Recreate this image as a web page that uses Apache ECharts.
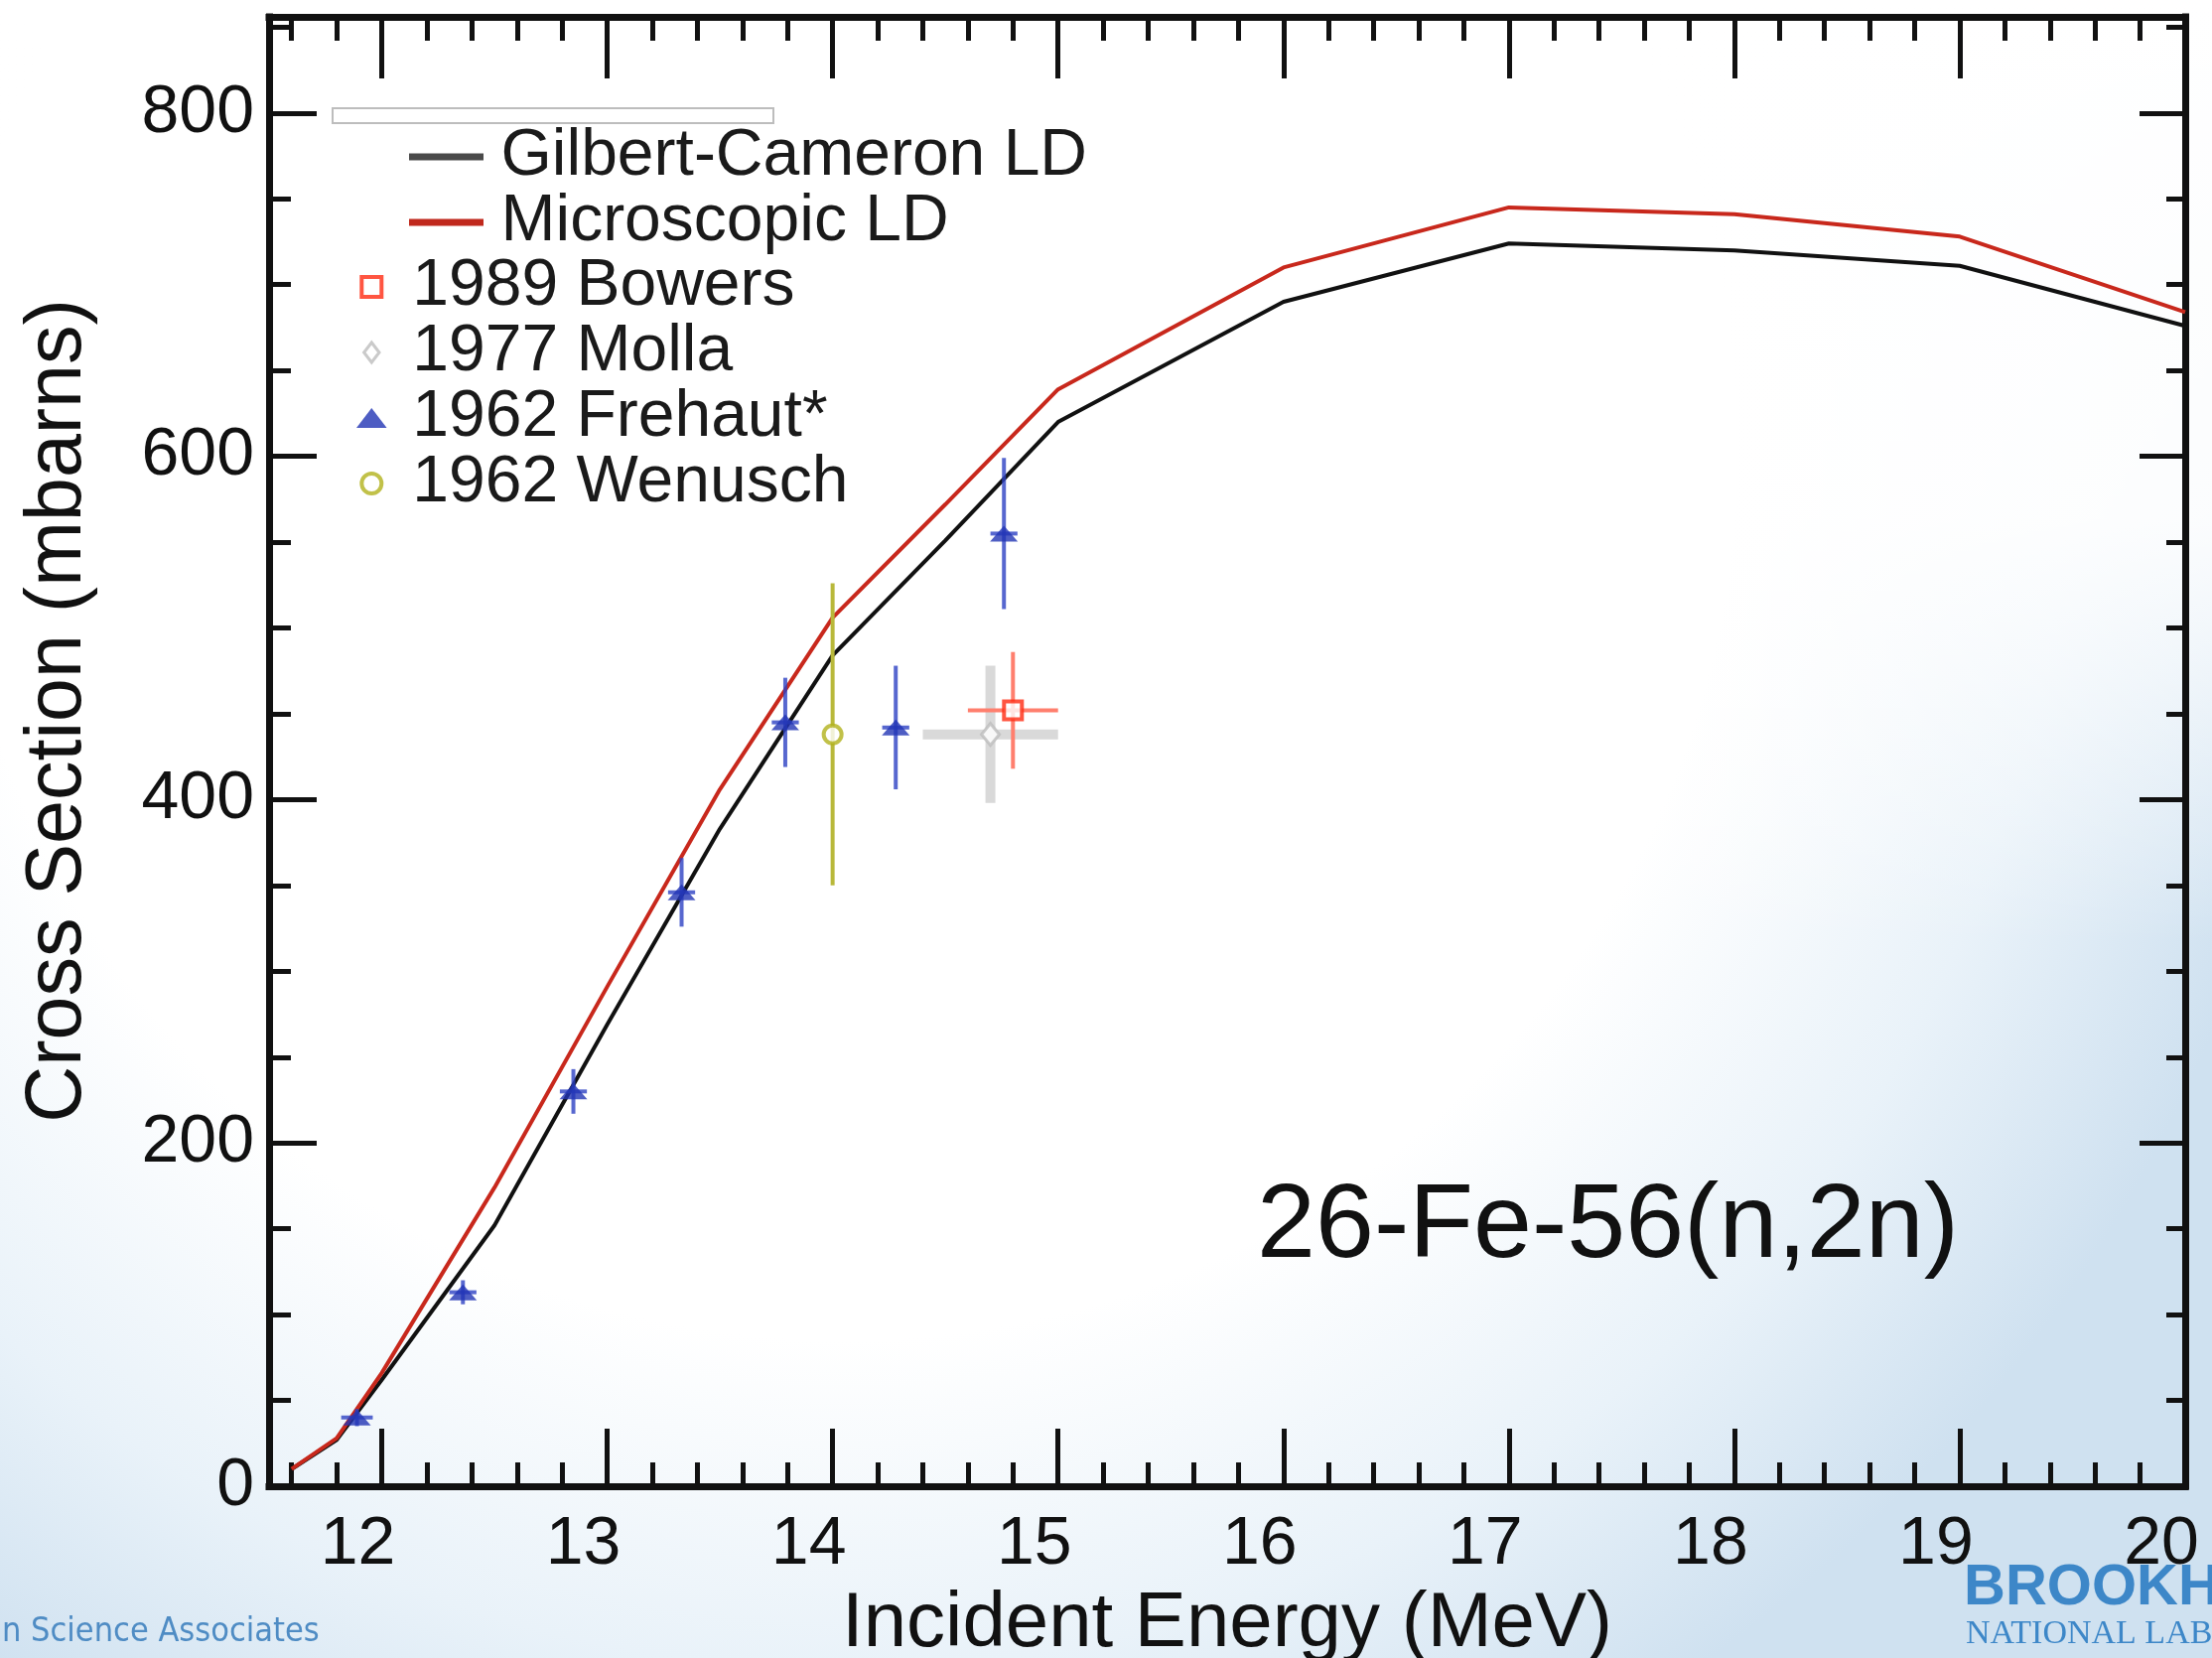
<!DOCTYPE html>
<html>
<head>
<meta charset="utf-8">
<script src="https://cdn.jsdelivr.net/npm/echarts@6/dist/echarts.min.js"></script>
<style>
html,body{margin:0;padding:0;background:#fff;}
#chart{width:2228px;height:1670px;}
</style>
</head>
<body>
<div id="chart"></div>
<script>
// ---------------- data ----------------
const modelEnergy = [11.6, 11.8, 12.0, 12.5, 13.0, 13.5, 14.0, 14.5, 15, 16, 17, 18, 19, 20];
const gilbertCameronLD = [10, 27, 62, 152, 269, 383, 484, 551, 620, 690, 724, 720, 711, 676];
const microscopicLD = [10, 28, 66, 174, 291, 406, 506, 572, 639, 710, 745, 741, 728, 684];

const frehautE   = [11.89, 12.36, 12.85, 13.33, 13.79, 14.28, 14.76];
const frehautXS  = [40, 113, 230, 346, 445, 442, 555];
const frehautDXS = [5, 7, 13, 20, 26, 36, 44];
const frehautDE  = [0.07, 0.06, 0.06, 0.06, 0.06, 0.06, 0.06];

const wenuschE = [14.0];  const wenuschXS = [438]; const wenuschDXS = [88]; const wenuschDE = [0];
const mollaE   = [14.70]; const mollaXS   = [438]; const mollaDXS   = [40]; const mollaDE   = [0.30];
const bowersE  = [14.80]; const bowersXS  = [452]; const bowersDXS  = [34]; const bowersDE  = [0.20];

const xMajorTicks = [12, 13, 14, 15, 16, 17, 18, 19, 20];
const xTickLabels = [12, 13, 14, 15, 16, 17, 18, 19, 20];
const xMinorTicks = [11.6, 11.8,
  12.2, 12.4, 12.6, 12.8, 13.2, 13.4, 13.6, 13.8,
  14.2, 14.4, 14.6, 14.8, 15.2, 15.4, 15.6, 15.8,
  16.2, 16.4, 16.6, 16.8, 17.2, 17.4, 17.6, 17.8,
  18.2, 18.4, 18.6, 18.8, 19.2, 19.4, 19.6, 19.8];
const yMajorTicks = [0, 200, 400, 600, 800];
const yTickLabels = [0, 200, 400, 600, 800];
const yMinorTicks = [50, 100, 150, 250, 300, 350, 450, 500, 550, 650, 700, 750, 850];

const X_MIN = 11.5, X_MAX = 20, Y_MIN = 0, Y_MAX = 856;

// ---------------- helpers ----------------
const FONT = "'Liberation Sans', Arial, Helvetica, sans-serif";
const INK = '#111111';
const pairs = (xs, ys) => xs.map((x, i) => [x, ys[i]]);

function errorBars(name, xs, ys, dys, dxs, color, width) {
  return {
    type: 'custom', name: name, xAxisIndex: 0, yAxisIndex: 0, z: 3, silent: true,
    data: xs.map((x, i) => [x, ys[i], dxs[i], dys[i]]),
    encode: { x: 0, y: 1 },
    renderItem: function (params, api) {
      const x = api.value(0), y = api.value(1), dx = api.value(2), dy = api.value(3);
      const children = [];
      const t = api.coord([x, y + dy]), b = api.coord([x, y - dy]);
      children.push({ type: 'line', shape: { x1: t[0], y1: t[1], x2: b[0], y2: b[1] },
        style: { stroke: color, lineWidth: width } });
      if (dx > 0) {
        const l = api.coord([x - dx, y]), r = api.coord([x + dx, y]);
        children.push({ type: 'line', shape: { x1: l[0], y1: l[1], x2: r[0], y2: r[1] },
          style: { stroke: color, lineWidth: width } });
      }
      return { type: 'group', children: children };
    }
  };
}

function xAxisDef(position, ticks, len, labels, line, extra) {
  return Object.assign({
    type: 'value', position: position, min: X_MIN, max: X_MAX, gridIndex: 0,
    axisLine: { show: line, onZero: false, lineStyle: { color: INK, width: 7, cap: 'square' } },
    axisTick: { show: true, inside: true, length: len, customValues: ticks, lineStyle: { color: INK, width: 5 } },
    axisLabel: labels ? { show: true, customValues: labels, margin: 25, fontSize: 68, color: INK,
      fontFamily: FONT, padding: [0, 48, 0, 0] } : { show: false },
    splitLine: { show: false }, axisPointer: { show: false }
  }, extra || {});
}
function yAxisDef(position, ticks, len, labels, line, extra) {
  return Object.assign({
    type: 'value', position: position, min: Y_MIN, max: Y_MAX, gridIndex: 0,
    axisLine: { show: line, onZero: false, lineStyle: { color: INK, width: 7, cap: 'square' } },
    axisTick: { show: true, inside: true, length: len, customValues: ticks, lineStyle: { color: INK, width: 5 } },
    axisLabel: labels ? { show: true, customValues: labels, margin: 15, fontSize: 68, color: INK,
      fontFamily: FONT } : { show: false },
    splitLine: { show: false }, axisPointer: { show: false }
  }, extra || {});
}

const legendText = { fontSize: 66, lineHeight: 66, color: '#1a1a1a', fontFamily: FONT };
const triPath = 'path://M0 17L13 0L26 17Z';
const squarePath = 'path://M0 0H20V20H0Z';
const diamondPath = 'path://M10 0L20 13L10 26L0 13Z';

const option = {
  backgroundColor: '#ffffff',
  animation: false,
  grid: { left: 271, right: 27, top: 17, bottom: 173, containLabel: false, outerBoundsMode: 'none' },
  xAxis: [
    xAxisDef('bottom', xMajorTicks, 58, xTickLabels, true, {
      name: 'Incident Energy (MeV)', nameLocation: 'middle', nameGap: 100,
      nameTextStyle: { fontSize: 78, color: INK, fontFamily: FONT }
    }),
    xAxisDef('bottom', xMinorTicks, 24, null, false),
    xAxisDef('top', xMajorTicks, 62, null, true),
    xAxisDef('top', xMinorTicks, 24, null, false)
  ],
  yAxis: [
    yAxisDef('left', yMajorTicks, 48, yTickLabels, true, {
      name: 'Cross Section (mbarns)', nameLocation: 'middle', nameGap: 172,
      nameTextStyle: { fontSize: 79, color: INK, fontFamily: FONT, padding: [0, 0, 0, 82] }
    }),
    yAxisDef('left', yMinorTicks, 22, null, false),
    yAxisDef('right', yMajorTicks, 46, null, true),
    yAxisDef('right', yMinorTicks, 19, null, false)
  ],
  legend: [
    {
      orient: 'vertical', left: 412, top: 125, padding: 0, itemGap: 0,
      itemWidth: 100, itemHeight: 7, selectedMode: false, textStyle: legendText,
      data: [
        { name: 'Gilbert-Cameron LD', icon: 'path://M0 0H75V7H0Z', itemStyle: { color: '#4a4a4a', borderWidth: 0 } },
        { name: 'Microscopic LD', icon: 'path://M0 0H75V7H0Z', itemStyle: { color: '#c0281c', borderWidth: 0 } }
      ]
    },
    {
      orient: 'vertical', left: 359, top: 256, padding: 0, itemGap: 0,
      itemWidth: 72, itemHeight: 20, selectedMode: false, textStyle: legendText,
      data: [
        { name: '1989 Bowers', icon: squarePath, itemStyle: { color: '#ffffff', borderColor: '#ff2a12', borderWidth: 4 } },
        { name: '1977 Molla', icon: diamondPath, itemStyle: { color: '#ffffff', borderColor: '#bdbdbd', borderWidth: 3 } },
        { name: '1962 Frehaut*', icon: triPath, itemStyle: { color: '#2234b4', borderWidth: 0 } },
        { name: '1962 Wenusch', icon: 'circle', itemStyle: { color: '#ffffff', borderColor: '#b2b21c', borderWidth: 4 } }
      ]
    }
  ],
  title: {
    text: '26-Fe-56(n,2n)', left: 1266, top: 1184, padding: 0,
    textStyle: { fontSize: 106, fontWeight: 'normal', color: INK, fontFamily: FONT }
  },
  graphic: [
    { type: 'rect', z: -20, silent: true, shape: { x: 0, y: 0, width: 2228, height: 1670 },
      style: { fill: { type: 'radial', x: 850, y: 450, r: 1500, global: true,
        colorStops: [{ offset: 0, color: '#ffffff' }, { offset: 0.6, color: '#ffffff' },
                     { offset: 0.82, color: '#e9f2f9' }, { offset: 1, color: '#cfe1f0' }] } } },
    { type: 'rect', z: -19, silent: true, shape: { x: 0, y: 0, width: 2228, height: 950 },
      style: { fill: { type: 'linear', x: 0, y: 0, x2: 0, y2: 1,
        colorStops: [{ offset: 0, color: 'rgba(255,255,255,1)' }, { offset: 0.55, color: 'rgba(255,255,255,0.9)' },
                     { offset: 1, color: 'rgba(255,255,255,0)' }] } } },
    { type: 'rect', z: 10, silent: true, shape: { x: 335, y: 109, width: 444, height: 15 },
      style: { fill: '#ffffff', stroke: '#bdbdbd', lineWidth: 2 } },
    { type: 'text', z: 10, silent: true, x: 2, y: 1644,
      style: { text: 'n Science Associates', fill: '#4f8cc4', fontSize: 34,
        fontFamily: "'Liberation Sans Narrow', 'DejaVu Sans Condensed', sans-serif", verticalAlign: 'middle' } },
    { type: 'text', z: 10, silent: true, x: 1978, y: 1600,
      style: { text: 'BROOKHAVEN', fill: '#3d87c8', fontSize: 58, fontWeight: 'bold',
        fontFamily: FONT, verticalAlign: 'middle' } },
    { type: 'text', z: 10, silent: true, x: 1980, y: 1646,
      style: { text: 'NATIONAL LABORATORY', fill: '#3d87c8', fontSize: 34,
        fontFamily: "'Liberation Serif', 'DejaVu Serif', serif", verticalAlign: 'middle' } }
  ],
  series: [
    { type: 'line', name: 'Gilbert-Cameron LD', data: pairs(modelEnergy, gilbertCameronLD),
      xAxisIndex: 0, yAxisIndex: 0, symbol: 'none', showSymbol: false, z: 2,
      lineStyle: { color: '#111111', width: 4 }, itemStyle: { color: '#111111' } },
    { type: 'line', name: 'Microscopic LD', data: pairs(modelEnergy, microscopicLD),
      xAxisIndex: 0, yAxisIndex: 0, symbol: 'none', showSymbol: false, z: 2,
      lineStyle: { color: '#c8281c', width: 4 }, itemStyle: { color: '#c8281c' } },

    errorBars('Molla err', mollaE, mollaXS, mollaDXS, mollaDE, '#d9d9d9', 10),
    errorBars('Bowers err', bowersE, bowersXS, bowersDXS, bowersDE, '#ff7f6e', 4),
    errorBars('Wenusch err', wenuschE, wenuschXS, wenuschDXS, wenuschDE, '#b8b83a', 4),
    errorBars('Frehaut err', frehautE, frehautXS, frehautDXS, frehautDE, 'rgba(45,65,195,0.8)', 4),

    { type: 'scatter', name: '1977 Molla', data: pairs(mollaE, mollaXS), xAxisIndex: 0, yAxisIndex: 0, z: 5,
      symbol: 'diamond', symbolSize: [18, 22], itemStyle: { color: '#ffffff', borderColor: '#bdbdbd', borderWidth: 3 } },
    { type: 'scatter', name: '1989 Bowers', data: pairs(bowersE, bowersXS), xAxisIndex: 0, yAxisIndex: 0, z: 5,
      symbol: 'rect', symbolSize: 18, itemStyle: { color: '#ffffff', borderColor: '#ff2a12', borderWidth: 4 } },
    { type: 'scatter', name: '1962 Wenusch', data: pairs(wenuschE, wenuschXS), xAxisIndex: 0, yAxisIndex: 0, z: 5,
      symbol: 'circle', symbolSize: 18, itemStyle: { color: '#ffffff', borderColor: '#b2b21c', borderWidth: 4 } },
    { type: 'scatter', name: '1962 Frehaut*', data: pairs(frehautE, frehautXS), xAxisIndex: 0, yAxisIndex: 0, z: 5,
      symbol: triPath, symbolSize: [28, 16], itemStyle: { color: '#2234b4' } }
  ]
};

const chart = echarts.init(document.getElementById('chart'), null, { renderer: 'canvas', width: 2228, height: 1670 });
chart.setOption(option);
</script>
</body>
</html>
